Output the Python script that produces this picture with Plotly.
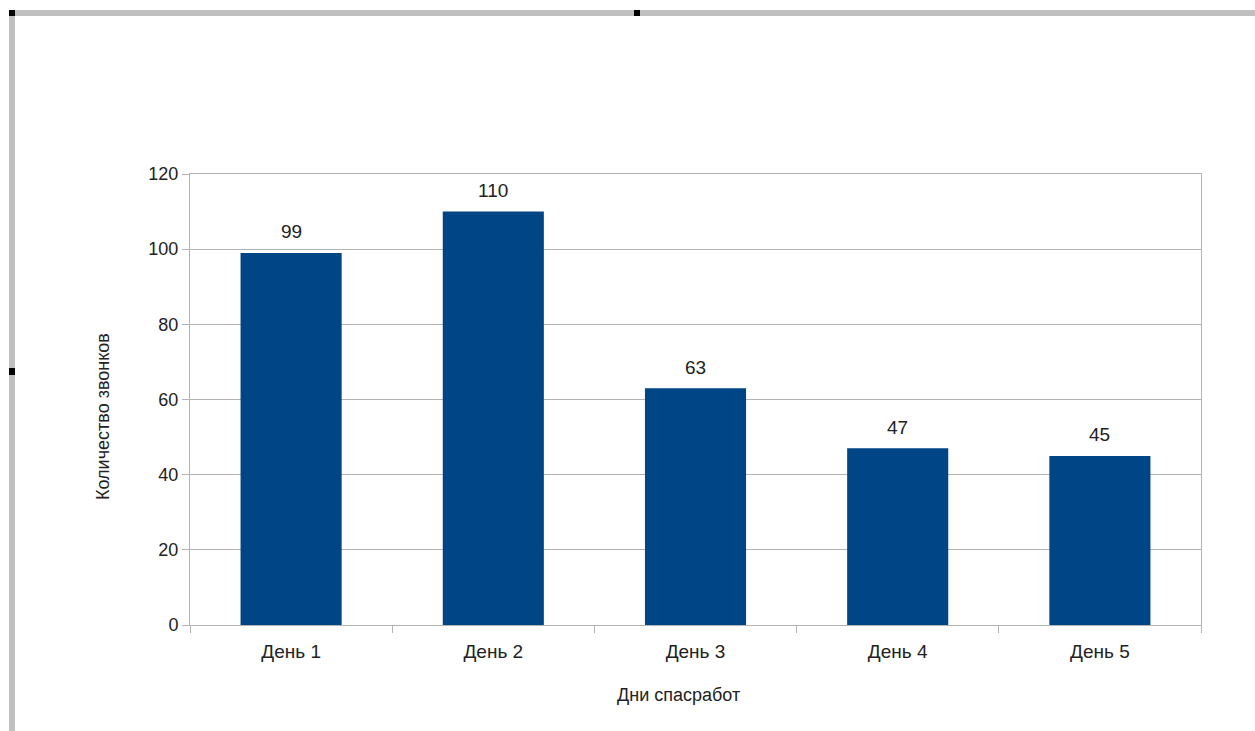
import plotly.graph_objects as go

days = ["День 1", "День 2", "День 3", "День 4", "День 5"]
calls = [99, 110, 63, 47, 45]
y_ticks = [0, 20, 40, 60, 80, 100, 120]

W, H = 1255, 731
FONT = "Liberation Sans, Arial, sans-serif"
GRID = "#b3b3b3"
TXT = "#222222"

# plot-area pixel box
PL, PR, PT, PB = 190, 1201, 174, 625

fig = go.Figure(
    go.Bar(
        x=days,
        y=calls,
        marker=dict(color="#004586", line=dict(width=0)),
        width=0.5,
        hoverinfo="x+y",
    )
)

# value labels above the bars
for d, v in zip(days, calls):
    fig.add_annotation(x=d, y=v, xref="x", yref="y", text=str(v), showarrow=False,
                       yanchor="middle", yshift=21,
                       font=dict(family=FONT, size=19, color=TXT))


def paper_x(px):
    return (px - PL) / (PR - PL)


def paper_y(py):
    return (PB - py) / (PB - PT)


# axis titles
fig.add_annotation(x=paper_x(678), y=paper_y(695), xref="paper", yref="paper",
                   text="Дни спасработ", showarrow=False,
                   xanchor="center", yanchor="middle",
                   font=dict(family=FONT, size=18, color=TXT))
fig.add_annotation(x=paper_x(103), y=paper_y(417), xref="paper", yref="paper",
                   text="Количество звонков", showarrow=False, textangle=-90,
                   xanchor="center", yanchor="middle",
                   font=dict(family=FONT, size=18, color=TXT))


# selection frame of the embedded object
def px_rect(x0, y0, x1, y1, color):
    return dict(type="rect", xref="paper", yref="paper",
                x0=paper_x(x0), x1=paper_x(x1),
                y0=paper_y(y1), y1=paper_y(y0),
                fillcolor=color, line=dict(width=0), layer="above")


shapes = [
    px_rect(9, 10, 1255, 16, "#c0c0c0"),
    px_rect(9, 10, 15, 731, "#c0c0c0"),
    px_rect(9, 10, 15, 16, "#000000"),
    px_rect(634, 10, 640, 16, "#000000"),
    px_rect(9, 368, 15, 375, "#000000"),
]

fig.update_layout(
    width=W, height=H,
    margin=dict(l=PL, r=W - PR, t=PT, b=H - PB),
    paper_bgcolor="white",
    plot_bgcolor="white",
    showlegend=False,
    font=dict(family=FONT, size=16, color=TXT),
    shapes=shapes,
    xaxis=dict(
        type="category",
        showline=True, linecolor=GRID, linewidth=1, mirror=True,
        ticks="outside", tickson="boundaries", ticklen=7, tickcolor=GRID,
        showgrid=False,
        ticklabelstandoff=9,
        tickfont=dict(family=FONT, size=19, color=TXT),
    ),
    yaxis=dict(
        range=[0, 120],
        tickvals=y_ticks,
        showline=True, linecolor=GRID, linewidth=1, mirror=True,
        ticks="outside", ticklen=7, tickcolor=GRID,
        showgrid=True, gridcolor=GRID, gridwidth=1,
        zeroline=False,
        tickfont=dict(family=FONT, size=18, color=TXT),
    ),
)

fig.write_html("out.html")
